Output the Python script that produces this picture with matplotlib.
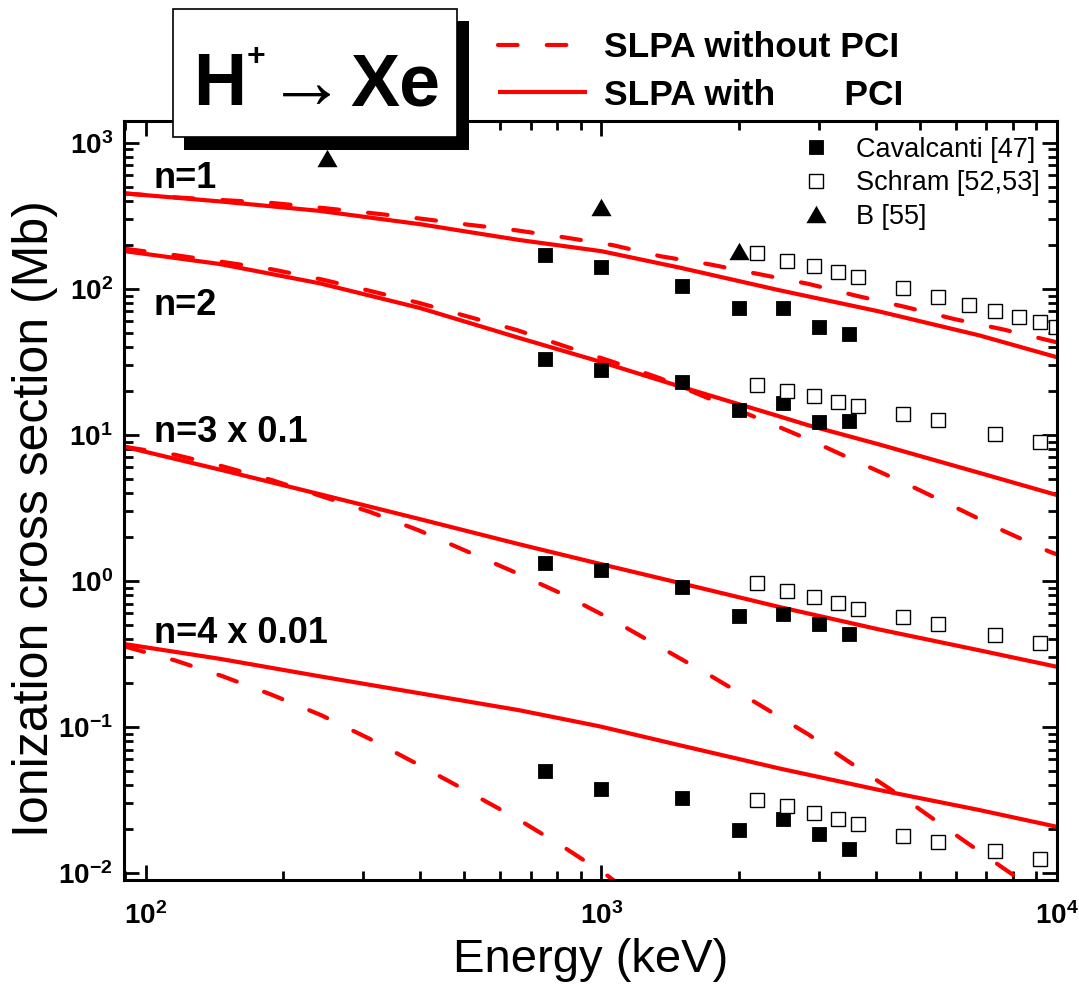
import matplotlib
matplotlib.use("Agg")
import matplotlib.pyplot as plt
from matplotlib.patches import Rectangle

plt.rcParams['font.family'] = ['Liberation Sans', 'DejaVu Sans']
plt.rcParams['font.weight'] = 'bold'
plt.rcParams['mathtext.default'] = 'regular'
plt.rcParams['axes.unicode_minus'] = False

# SLPA curves, energy in keV, cross section in Mb
e_n1_pci = [90, 145, 240, 400, 660, 1000, 1480, 2450, 4070, 6750, 10000]
n1_pci = [450, 397, 342, 277, 216, 181, 140, 98, 70, 48, 34]
e_n1_nopci = [90, 116, 188, 242, 310, 399, 505, 648, 830, 1060, 1350, 1730, 2220, 2850, 3630, 4630, 5960, 7620, 10000]
n1_nopci = [450, 423, 388, 359, 331, 303, 276, 252, 225, 199, 167, 147, 126, 108, 89.6, 75.3, 62, 52.7, 43]

e_n2_pci = [90, 145, 241, 399, 661, 1000, 1483, 2455, 2840, 4070, 6745, 10000]
n2_pci = [181, 148, 109, 74, 46, 31.5, 21.5, 13.4, 11.65, 8.6, 5.5, 3.87]
e_n2_nopci = [90, 116, 147, 189, 243, 310, 397, 505, 652, 830, 1060, 1350, 1740, 2220, 2850, 3630, 4650, 5960, 7660, 9650, 10000]
n2_nopci = [188, 170, 153, 136, 116, 96.9, 80.2, 65, 52.2, 40.5, 31.6, 24.3, 17.5, 12.9, 9.3, 6.58, 4.65, 3.21, 2.19, 1.58, 1.52]

e_n3_pci = [90, 145, 241, 399, 661, 1000, 1483, 2455, 4070, 6745, 10000]
n3_pci = [8.27, 5.79, 3.92, 2.65, 1.78, 1.30, 0.969, 0.663, 0.465, 0.335, 0.258]
e_n3_nopci = [90, 116, 147, 189, 243, 310, 397, 505, 652, 830, 1060, 1350, 1740, 2220, 2850, 3630, 4650, 5960, 7620, 10000]
n3_nopci = [8.27, 7.3, 6.1, 4.9, 3.8, 2.97, 2.22, 1.60, 1.13, 0.80, 0.538, 0.350, 0.223, 0.142, 0.0886, 0.0532, 0.032, 0.01845, 0.0108, 0.006]

e_n4_pci = [90, 145, 241, 399, 661, 990, 1483, 2455, 4070, 6745, 10000]
n4_pci = [0.369, 0.293, 0.222, 0.170, 0.130, 0.101, 0.075, 0.052, 0.037, 0.027, 0.0207]
e_n4_nopci = [90, 116, 147, 189, 243, 310, 395, 505, 652, 830, 1035, 1300]
n4_nopci = [0.355, 0.285, 0.223, 0.166, 0.120, 0.0828, 0.0555, 0.0366, 0.0236, 0.0149, 0.0095, 0.0055]

# experiments
e_cav = [750, 1000, 1500, 2000, 2500, 3000, 3500]
cav_n1 = [170, 141, 105, 73.4, 74.1, 55, 49]
cav_n2 = [33, 27.7, 22.9, 14.9, 16.4, 12.2, 12.4]
cav_n3 = [1.32, 1.18, 0.91, 0.573, 0.589, 0.505, 0.430]
cav_n4 = [0.050, 0.0374, 0.0327, 0.0198, 0.0236, 0.0186, 0.0147]

e_sch_n1 = [2200, 2560, 2930, 3300, 3660, 4580, 5490, 6410, 7320, 8250, 9180, 9950]
sch_n1 = [176, 156, 143, 130, 120, 102, 88, 78, 70, 64, 59, 55]
e_sch = [2200, 2560, 2930, 3300, 3660, 4580, 5490, 7320, 9180]
sch_n2 = [21.9, 19.9, 18.4, 16.8, 15.8, 13.9, 12.6, 10.2, 8.96]
sch_n3 = [0.969, 0.849, 0.770, 0.711, 0.640, 0.562, 0.503, 0.429, 0.376]
sch_n4 = [0.0315, 0.0289, 0.0259, 0.0233, 0.0215, 0.0179, 0.0163, 0.0142, 0.01255]

e_b = [250, 1000, 2000]
b_n1 = [782, 361, 182]

shell_labels = ['n=1', 'n=2', 'n=3 x 0.1', 'n=4 x 0.01']
shell_label_y = [489, 66, 8.96, 0.374]

W, H = 1079, 990
fig = plt.figure(figsize=(W / 100, H / 100), dpi=100)
ax = fig.add_axes([124 / W, 1 - 880 / H, 933 / W, 759 / H])
ax.set_xscale('log')
ax.set_yscale('log')

lw = 3.0
dash = dict(color='red', lw=lw, dashes=(4.7, 7.0), dash_capstyle='round')
solid = dict(color='red', lw=lw, solid_capstyle='butt')

l_dash, = ax.plot(e_n1_nopci, n1_nopci, **dash)
l_solid, = ax.plot(e_n1_pci, n1_pci, **solid)
ax.plot(e_n2_nopci, n2_nopci, **dash)
ax.plot(e_n2_pci, n2_pci, **solid)
ax.plot(e_n3_nopci, n3_nopci, **dash)
ax.plot(e_n3_pci, n3_pci, **solid)
ax.plot(e_n4_nopci, n4_nopci, **dash)
ax.plot(e_n4_pci, n4_pci, **solid)

tri = [(-1, -0.866), (1, -0.866), (0, 0.866)]
filled = dict(ls='none', marker='s', ms=10, mfc='black', mec='black', mew=0.6)
opened = dict(ls='none', marker='s', ms=9.5, mfc='white', mec='black', mew=1.0)

h_cav, = ax.plot(e_cav, cav_n1, **filled)
for vals in [cav_n2, cav_n3, cav_n4]:
    ax.plot(e_cav, vals, **filled)
h_sch, = ax.plot(e_sch_n1, sch_n1, **opened)
for vals in [sch_n2, sch_n3, sch_n4]:
    ax.plot(e_sch, vals, **opened)
h_b, = ax.plot(e_b, b_n1, ls='none', marker=tri, ms=14.5, mfc='black', mec='black', mew=0)

for lbl, y in zip(shell_labels, shell_label_y):
    ax.text(104, y, lbl, fontsize=26, va='baseline', ha='left')

ax.set_xlim(89.5, 10000)
ax.set_ylim(0.00895, 1410)

ax.tick_params(which='both', direction='in', top=True, right=True, width=2)
ax.tick_params(which='major', length=11, labelsize=20)
ax.tick_params(axis='x', which='major', pad=16)
ax.tick_params(axis='y', which='major', pad=8)
ax.tick_params(which='minor', length=6.5)
for sp in ax.spines.values():
    sp.set_linewidth(2.2)

ax.set_xlabel('Energy (keV)', fontsize=34, fontweight='normal')
ax.set_ylabel('Ionization cross section (Mb)', fontsize=36, fontweight='normal')
ax.xaxis.set_label_coords(0.5, -0.076)
ax.yaxis.set_label_coords(-0.071, 0.4756)

ax.legend([h_cav, h_sch, h_b], ['Cavalcanti [47]', 'Schram [52,53]', 'B [55]'],
          loc='upper right', bbox_to_anchor=(0.982, 0.979), frameon=False, numpoints=1,
          prop={'weight': 'normal', 'size': 19.5}, handlelength=1.0, handletextpad=1.0,
          labelspacing=0.27, borderpad=0, borderaxespad=0)

fig.legend([l_dash, l_solid], ['SLPA without PCI', 'SLPA with       PCI'],
           loc='upper left', bbox_to_anchor=(498 / W, 1 - 31 / H), frameon=False,
           prop={'weight': 'bold', 'size': 25.5}, handlelength=2.5, handletextpad=0.5,
           labelspacing=0.42, borderpad=0, borderaxespad=0)

# title box with drop shadow
fig.add_artist(Rectangle((184 / W, 1 - 150 / H), 285 / W, 129 / H, transform=fig.transFigure,
                         facecolor='black', edgecolor='black', lw=0, zorder=5))
fig.add_artist(Rectangle((173 / W, 1 - 137 / H), 284 / W, 128 / H, transform=fig.transFigure,
                         facecolor='white', edgecolor='black', lw=1.2, zorder=6))
fig.text(193 / W, 1 - 105 / H, 'H', fontsize=53, ha='left', va='baseline', zorder=7)
fig.text(247 / W, 1 - 65 / H, '+', fontsize=23, ha='left', va='baseline', zorder=7)
fig.text(306 / W, 1 - 88 / H, '→', fontsize=57, fontweight='normal', ha='center', va='center', zorder=7)
fig.text(350 / W, 1 - 105 / H, 'Xe', fontsize=53, ha='left', va='baseline', zorder=7)

fig.savefig('out.png', dpi=100)
